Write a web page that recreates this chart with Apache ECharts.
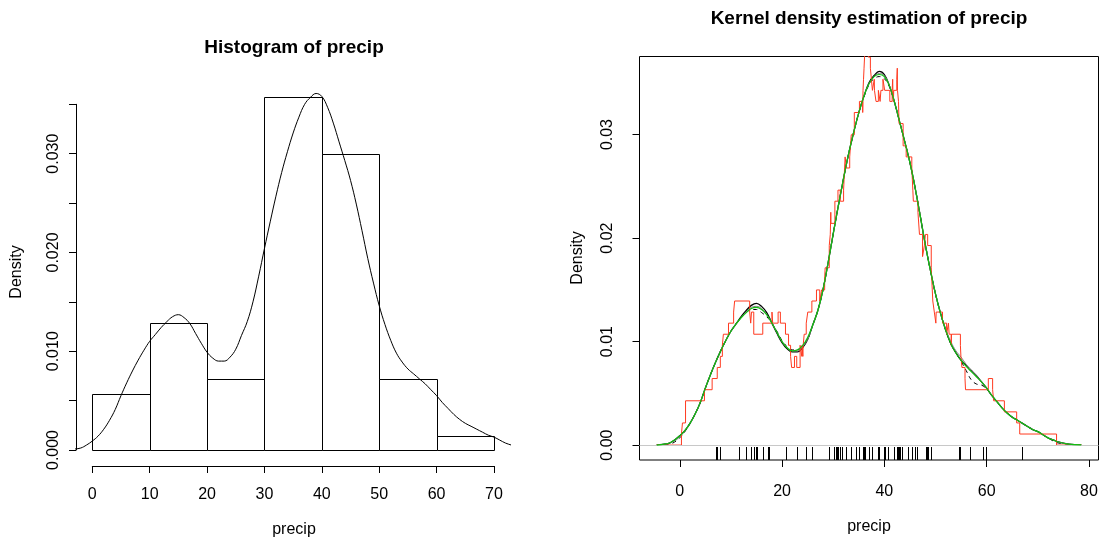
<!DOCTYPE html>
<html>
<head>
<meta charset="utf-8">
<script src="https://cdn.jsdelivr.net/npm/echarts@6.0.0/dist/echarts.min.js"></script>
<style>
html, body { margin: 0; padding: 0; background: #fff; }
#main { width: 1101px; height: 538px; }
</style>
</head>
<body>
<div id="main"></div>
<script>
// precip values (rug)
var precip = [67.0, 54.7, 7.0, 48.5, 14.0, 17.2, 20.7, 13.0, 43.4, 40.2, 38.9, 54.5, 59.8, 48.3, 22.9,
    11.5, 34.4, 35.1, 38.7, 30.8, 30.6, 43.1, 56.8, 40.8, 41.8, 42.5, 31.0, 31.7, 30.2, 25.9, 49.2, 37.0,
    35.9, 15.0, 30.2, 7.2, 36.2, 45.5, 7.8, 33.4, 36.1, 40.2, 42.7, 42.5, 16.2, 39.0, 35.0, 37.0, 31.4,
    37.6, 39.9, 36.2, 42.8, 46.4, 24.7, 49.1, 46.0, 35.9, 7.8, 48.2, 15.2, 32.5, 44.7, 42.6, 38.8, 17.4,
    40.8, 29.1, 14.6, 59.2];

// histogram
var histBreaks = [0, 10, 20, 30, 40, 50, 60, 70];
var histDensity = [0.00571, 0.01286, 0.00714, 0.03571, 0.03, 0.00714, 0.00143];

// smooth density curves
var kdeX = [-4.5, -3, -2, -1, 0, 1, 2, 3, 4, 5, 6, 7, 8, 9, 10, 11, 12, 13, 14, 15, 16, 17, 18, 19, 20,
    21, 22, 23, 24, 25, 26, 27, 28, 29, 30, 31, 32, 33, 34, 35, 36, 37, 38, 39, 40, 41, 42, 43, 44, 45,
    46, 47, 48, 49, 50, 51, 52, 53, 54, 55, 56, 57, 58, 59, 60, 61, 62, 63, 64, 65, 66, 67, 68, 69, 70,
    71, 72, 73, 74, 76, 78.5];
var gaussY = [0, 0.0001, 0.0002, 0.0005, 0.0009, 0.0014, 0.0021, 0.0030, 0.0041, 0.0055, 0.0068, 0.0080,
    0.0091, 0.0101, 0.0110, 0.0117, 0.0124, 0.0130, 0.0135, 0.0137, 0.0134, 0.0128, 0.0118, 0.0108, 0.0099,
    0.0093, 0.0090, 0.0090, 0.0094, 0.0102, 0.0116, 0.0130, 0.0150, 0.0176, 0.0204, 0.0231, 0.0257, 0.0281,
    0.0302, 0.0321, 0.0337, 0.0350, 0.0357, 0.0361, 0.0358, 0.0347, 0.0331, 0.0312, 0.0293, 0.0273, 0.0249,
    0.0222, 0.0194, 0.0169, 0.0146, 0.0127, 0.0111, 0.0098, 0.0089, 0.0082, 0.0077, 0.0072, 0.0067, 0.0061,
    0.0055, 0.0048, 0.0042, 0.0036, 0.0031, 0.0027, 0.0024, 0.0021, 0.0018, 0.0015, 0.0013, 0.0010, 0.0007,
    0.0005, 0.0003, 0.0001, 0];
var dashY = [0, 0.0001, 0.0001, 0.0003, 0.0007, 0.0013, 0.0021, 0.0030, 0.0041, 0.0055, 0.0068, 0.0080,
    0.0091, 0.0101, 0.0110, 0.0117, 0.0123, 0.0128, 0.0131, 0.0131, 0.0128, 0.0124, 0.0118, 0.0110, 0.0101,
    0.0095, 0.0092, 0.0092, 0.0095, 0.0102, 0.0116, 0.0130, 0.0150, 0.0176, 0.0204, 0.0231, 0.0257, 0.0281,
    0.0302, 0.0321, 0.0336, 0.0348, 0.0354, 0.0356, 0.0354, 0.0346, 0.0331, 0.0312, 0.0293, 0.0273, 0.0249,
    0.0222, 0.0194, 0.0169, 0.0146, 0.0127, 0.0111, 0.0098, 0.0089, 0.0081, 0.0072, 0.0063, 0.0059, 0.0058,
    0.0054, 0.0048, 0.0042, 0.0036, 0.0031, 0.0027, 0.0024, 0.0021, 0.0018, 0.0015, 0.0013, 0.0010, 0.0007,
    0.0004, 0.0002, 0.0001, 0];
var grayY = [0, 0.0001, 0.0002, 0.0004, 0.0008, 0.0014, 0.0021, 0.0030, 0.0041, 0.0055, 0.0068, 0.0080,
    0.0091, 0.0101, 0.0110, 0.0117, 0.0123, 0.0129, 0.0133, 0.0134, 0.0132, 0.0126, 0.0118, 0.0109, 0.0100,
    0.0094, 0.0091, 0.0091, 0.0095, 0.0102, 0.0116, 0.0130, 0.0150, 0.0176, 0.0204, 0.0231, 0.0257, 0.0281,
    0.0302, 0.0321, 0.0337, 0.0349, 0.0356, 0.0359, 0.0357, 0.0347, 0.0331, 0.0312, 0.0293, 0.0273, 0.0249,
    0.0222, 0.0194, 0.0169, 0.0146, 0.0127, 0.0112, 0.0100, 0.0091, 0.0085, 0.0078, 0.0072, 0.0067, 0.0061,
    0.0055, 0.0048, 0.0042, 0.0036, 0.0031, 0.0027, 0.0024, 0.0021, 0.0018, 0.0015, 0.0013, 0.0010, 0.0007,
    0.0005, 0.0003, 0.0001, 0];
var greenY = [0, 0.0001, 0.0002, 0.0005, 0.0009, 0.0014, 0.0021, 0.0030, 0.0041, 0.0055, 0.0068, 0.0080,
    0.0091, 0.0101, 0.0110, 0.0117, 0.0123, 0.0128, 0.0132, 0.0133, 0.0131, 0.0126, 0.0118, 0.0109, 0.0100,
    0.0094, 0.0091, 0.0092, 0.0096, 0.0104, 0.0116, 0.0130, 0.0150, 0.0176, 0.0204, 0.0231, 0.0257, 0.0281,
    0.0302, 0.0321, 0.0337, 0.0349, 0.0356, 0.0358, 0.0356, 0.0347, 0.0331, 0.0312, 0.0293, 0.0273, 0.0249,
    0.0222, 0.0194, 0.0169, 0.0146, 0.0127, 0.0111, 0.0098, 0.0089, 0.0082, 0.0076, 0.0071, 0.0066, 0.0061,
    0.0055, 0.0048, 0.0042, 0.0036, 0.0031, 0.0027, 0.0024, 0.0021, 0.0018, 0.0015, 0.0013, 0.0010, 0.0007,
    0.0005, 0.0003, 0.0001, 0.00002];

// rectangular kernel estimate: x where each step starts, height held until the next x
var rectX = [-4.55, 0.33, 0.53, 1.13, 4.83, 6.33, 7.33, 7.93, 8.33, 8.53, 9.53, 10.53, 10.73, 13.67, 13.87,
    14.03, 14.47, 16.23, 18.03, 18.17, 19.23, 19.67, 20.67, 21.27, 21.67, 21.87, 22.43, 22.87, 23.53, 23.87,
    23.93, 24.07, 24.13, 24.33, 24.73, 25.03, 25.83, 26.73, 27.37, 27.73, 28.33, 28.43, 29.23, 29.43, 29.53,
    29.57, 30.33, 30.93, 31.37, 32.03, 32.13, 32.23, 32.33, 32.57, 33.23, 33.53, 34.13, 35.13, 35.77, 35.83,
    35.93, 36.03, 36.13, 36.43, 36.73, 36.87, 37.27, 37.47, 37.67, 38.03, 38.07, 38.37, 38.83, 39.17, 39.33,
    39.73, 40.07, 41.07, 41.53, 41.63, 41.67, 41.77, 41.83, 42.43, 42.53, 42.57, 42.77, 42.87, 43.67, 44.27,
    45.37, 45.47, 45.57, 45.67, 46.57, 46.87, 47.47, 47.83, 48.03, 48.47, 49.17, 49.27, 49.37, 49.47, 49.77,
    50.07, 50.13, 51.37, 52.17, 52.53, 52.67, 53.07, 53.13, 54.87, 54.97, 55.17, 55.77, 55.87, 60.33, 61.17,
    61.37, 63.47, 65.87, 66.47, 73.67, 78.55];
var rectY = [0, 0.00107, 0.00214, 0.00428, 0.00535, 0.00643, 0.0075, 0.00857, 0.00964, 0.01071, 0.01178,
    0.01285, 0.01392, 0.01285, 0.01178, 0.01285, 0.01071, 0.01178, 0.01285, 0.01178, 0.01285, 0.01178,
    0.01071, 0.00964, 0.00857, 0.0075, 0.00857, 0.0075, 0.00964, 0.00857, 0.00964, 0.00857, 0.00964, 0.01071,
    0.01178, 0.01285, 0.01392, 0.01499, 0.01392, 0.01499, 0.01606, 0.01713, 0.01928, 0.02035, 0.02249,
    0.02142, 0.02356, 0.02463, 0.02356, 0.02463, 0.0257, 0.02677, 0.02784, 0.02677, 0.02784, 0.02998, 0.03213,
    0.0332, 0.03213, 0.03427, 0.03534, 0.03641, 0.03748, 0.03855, 0.03962, 0.03748, 0.03641, 0.03534, 0.03427,
    0.03534, 0.03427, 0.0332, 0.03427, 0.0332, 0.03427, 0.03534, 0.03427, 0.0332, 0.03427, 0.03534, 0.03427,
    0.0332, 0.03427, 0.03534, 0.03641, 0.03427, 0.0332, 0.03106, 0.02891, 0.02784, 0.02677, 0.0257, 0.02463,
    0.02356, 0.02249, 0.02035, 0.01821, 0.01928, 0.02035, 0.01928, 0.01713, 0.01606, 0.01499, 0.01392,
    0.01285, 0.01178, 0.01285, 0.01178, 0.01071, 0.01178, 0.01071, 0.00964, 0.01071, 0.00964, 0.00857,
    0.0075, 0.00643, 0.00535, 0.00643, 0.00535, 0.00428, 0.00321, 0.00214, 0.00107, 0, 0];

var rightTicksX = [0, 20, 40, 60, 80];
var rightTicksY = [0, 0.01, 0.02, 0.03];

function zip(xs, ys) {
    return xs.map(function (x, i) { return [x, ys[i]]; });
}

var font = 'Liberation Sans, Arial, sans-serif';
var chart = echarts.init(document.getElementById('main'));

var labelStyle = { color: '#000', fontSize: 16, fontFamily: font };

var option = {
    animation: false,
    backgroundColor: '#fff',
    textStyle: { fontFamily: font },
    grid: [
        // left plot region
        { left: 76.2, top: 83.2, width: 433.9, height: 380.9, show: false },
        // left axes (0..70, 0..0.035)
        { left: 92.3, top: 104.3, width: 401.7, height: 345.7, show: false },
        // right plot box
        { left: 639.5, top: 56.5, width: 459, height: 403.5, show: true,
          borderColor: '#000', borderWidth: 1, backgroundColor: 'transparent' }
    ],
    xAxis: [
        { gridIndex: 0, type: 'value', min: -2.8, max: 72.8, show: false },
        { gridIndex: 1, type: 'value', min: 0, max: 70, interval: 10, offset: 16,
          axisLine: { onZero: false, lineStyle: { color: '#000', width: 1 } },
          axisTick: { length: 7, lineStyle: { color: '#000' } },
          axisLabel: Object.assign({ margin: 21 }, labelStyle),
          splitLine: { show: false } },
        { gridIndex: 2, type: 'value', min: -7.87, max: 81.87,
          axisLine: { show: false, onZero: false },
          axisTick: { show: true, length: 7, customValues: rightTicksX, lineStyle: { color: '#000' } },
          axisLabel: Object.assign({ margin: 24, customValues: rightTicksX }, labelStyle),
          splitLine: { show: false } }
    ],
    yAxis: [
        { gridIndex: 0, type: 'value', min: -0.00143, max: 0.03714, show: false },
        { gridIndex: 1, type: 'value', min: 0, max: 0.035, interval: 0.005, offset: 16.3,
          axisLine: { show: true, onZero: false, lineStyle: { color: '#000', width: 1 } },
          axisTick: { show: true, length: 7, lineStyle: { color: '#000' } },
          axisLabel: Object.assign({
              margin: 14, rotate: 90,
              formatter: function (v) {
                  var k = Math.round(v * 1000);
                  return k % 10 === 0 ? (k / 1000).toFixed(3) : '';
              }
          }, labelStyle),
          splitLine: { show: false } },
        { gridIndex: 2, type: 'value', min: -0.00144, max: 0.03754,
          axisLine: { show: false, onZero: false },
          axisTick: { show: true, length: 7, customValues: rightTicksY, lineStyle: { color: '#000' } },
          axisLabel: Object.assign({
              margin: 24, rotate: 90, customValues: rightTicksY,
              formatter: function (v) { return v.toFixed(2); }
          }, labelStyle),
          splitLine: { show: false } }
    ],
    graphic: [
        { type: 'text', x: 294, y: 48, style: { text: 'Histogram of precip', font: 'bold 19px ' + font,
          fill: '#000', textAlign: 'center', textVerticalAlign: 'middle' } },
        { type: 'text', x: 869, y: 19, style: { text: 'Kernel density estimation of precip', font: 'bold 19px ' + font,
          fill: '#000', textAlign: 'center', textVerticalAlign: 'middle' } },
        { type: 'text', x: 294, y: 530, style: { text: 'precip', font: '16px ' + font,
          fill: '#000', textAlign: 'center', textVerticalAlign: 'middle' } },
        { type: 'text', x: 869, y: 527, style: { text: 'precip', font: '16px ' + font,
          fill: '#000', textAlign: 'center', textVerticalAlign: 'middle' } },
        { type: 'text', x: 17, y: 272, rotation: Math.PI / 2, style: { text: 'Density', font: '16px ' + font,
          fill: '#000', textAlign: 'center', textVerticalAlign: 'middle' } },
        { type: 'text', x: 578, y: 258, rotation: Math.PI / 2, style: { text: 'Density', font: '16px ' + font,
          fill: '#000', textAlign: 'center', textVerticalAlign: 'middle' } }
    ],
    series: [
        // histogram bars
        {
            type: 'custom', xAxisIndex: 0, yAxisIndex: 0, clip: false,
            data: histDensity.map(function (d, i) { return [histBreaks[i], histBreaks[i + 1], d]; }),
            renderItem: function (params, api) {
                var p0 = api.coord([api.value(0), api.value(2)]);
                var p1 = api.coord([api.value(1), 0]);
                var x0 = Math.round(p0[0]) + 0.5, x1 = Math.round(p1[0]) + 0.5;
                var y0 = Math.round(p0[1]) + 0.5, y1 = Math.round(p1[1]) + 0.5;
                return { type: 'rect', shape: { x: x0, y: y0, width: x1 - x0, height: y1 - y0 },
                    style: { fill: '#fff', stroke: '#000', lineWidth: 1 } };
            }
        },
        // density over histogram
        { type: 'line', xAxisIndex: 0, yAxisIndex: 0, data: zip(kdeX, gaussY), smooth: 0.4,
          symbol: 'none', clip: true, lineStyle: { color: '#000', width: 1 } },

        // right panel curves
        { type: 'line', xAxisIndex: 2, yAxisIndex: 2, data: zip(kdeX, gaussY), smooth: 0.4,
          symbol: 'none', clip: true, lineStyle: { color: '#000', width: 1.3 }, z: 3,
          markLine: { symbol: 'none', silent: true, label: { show: false },
              lineStyle: { color: '#c8c8c8', type: 'solid', width: 1 }, data: [{ yAxis: 0 }] } },
        { type: 'line', xAxisIndex: 2, yAxisIndex: 2, data: zip(kdeX, dashY), smooth: 0.4,
          symbol: 'none', clip: true, lineStyle: { color: '#000', width: 1, type: [4, 4] }, z: 3 },
        { type: 'line', xAxisIndex: 2, yAxisIndex: 2, data: zip(kdeX, grayY), smooth: 0.4,
          symbol: 'none', clip: true, lineStyle: { color: '#808080', width: 1 }, z: 3 },
        { type: 'line', xAxisIndex: 2, yAxisIndex: 2, data: zip(rectX, rectY), step: 'end',
          symbol: 'none', clip: true, lineStyle: { color: '#ff3a20', width: 1 }, z: 4 },
        { type: 'line', xAxisIndex: 2, yAxisIndex: 2, data: zip(kdeX, greenY), smooth: 0.4,
          symbol: 'none', clip: true, lineStyle: { color: '#10c010', width: 1.2 }, z: 5 },
        // rug
        {
            type: 'custom', xAxisIndex: 2, yAxisIndex: 2, clip: false,
            data: precip.map(function (v) { return [v, 0]; }),
            renderItem: function (params, api) {
                var x = Math.round(api.coord([api.value(0), 0])[0]) + 0.5;
                var cs = params.coordSys;
                var bottom = cs.y + cs.height;
                return { type: 'line', shape: { x1: x, y1: bottom, x2: x, y2: bottom - 13 },
                    style: { stroke: '#000', lineWidth: 1 } };
            }
        }
    ]
};

chart.setOption(option);
</script>
</body>
</html>
